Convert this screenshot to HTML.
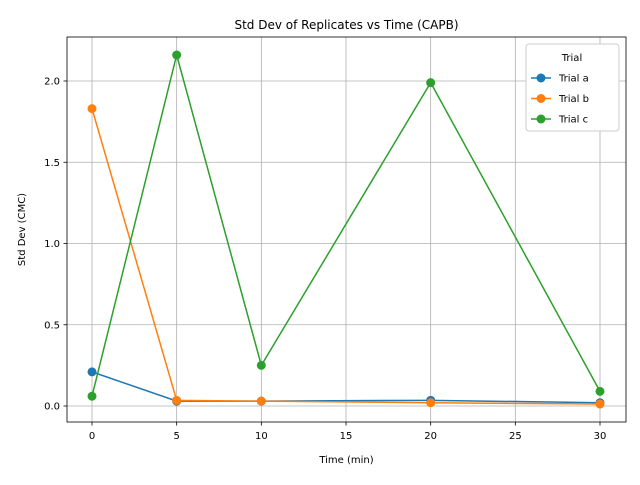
<!DOCTYPE html>
<html><head><meta charset="utf-8"><style>
body{margin:0;background:#fff;font-family:"Liberation Sans","DejaVu Sans",sans-serif}
svg text{font-family:"DejaVu Sans","Liberation Sans",sans-serif}
</style></head><body>
<svg id="c" width="640" height="480"></svg>
<script>
const times=[0,5,10,20,30];
const trialA=[0.21,0.03,0.03,0.035,0.02];
const trialB=[1.83,0.035,0.03,0.02,0.012];
const trialC=[0.06,2.16,0.25,1.99,0.09];
const xTicks=[0,5,10,15,20,25,30];
const yTicks=[0.0,0.5,1.0,1.5,2.0];
const seriesNames=["Trial a","Trial b","Trial c"];
const colors=["#1f77b4","#ff7f0e","#2ca02c"];
const L=67,R=626,T=37,B=422;
const sx=v=>92+(v-0)*(600-92)/30;
const sy=v=>406-v*(406-81)/2;
const svg=document.getElementById('c');
const NS="http://www.w3.org/2000/svg";
function el(t,a,txt){const e=document.createElementNS(NS,t);for(const k in a)e.setAttribute(k,a[k]);if(txt!==undefined)e.textContent=txt;svg.appendChild(e);return e;}
xTicks.forEach(v=>{const x=sx(v);
const g=el('line',{x1:x,x2:x,y1:T,y2:B,stroke:'#b0b0b0','stroke-width':0.8});

el('line',{x1:x,x2:x,y1:B,y2:B+3.5,stroke:'#000','stroke-width':0.8});
const t=el('text',{x:x,y:B+17,'font-size':10,'text-anchor':'middle'},String(v));
});
yTicks.forEach(v=>{const y=sy(v);
const g=el('line',{x1:L,x2:R,y1:y,y2:y,stroke:'#b0b0b0','stroke-width':0.8});

el('line',{x1:L-3.5,x2:L,y1:y,y2:y,stroke:'#000','stroke-width':0.8});
const t=el('text',{x:L-7,y:y+3.5,'font-size':10,'text-anchor':'end'},v.toFixed(1));
});
[trialA,trialB,trialC].forEach((d,i)=>{
const p=el('polyline',{points:d.map((v,j)=>sx(times[j])+','+sy(v)).join(' '),fill:'none',stroke:colors[i],'stroke-width':1.5});

d.forEach((v,j)=>{const c=el('circle',{cx:sx(times[j]),cy:sy(v),r:4.5,fill:colors[i]});
});});
const f=el('rect',{x:L,y:T,width:R-L,height:B-T,fill:'none',stroke:'#000','stroke-width':0.8});

const ti=el('text',{x:(L+R)/2,y:29,'font-size':12,'text-anchor':'middle'},'Std Dev of Replicates vs Time (CAPB)');

const xl=el('text',{x:(L+R)/2,y:463,'font-size':10,'text-anchor':'middle'},'Time (min)');

const yl=el('text',{x:25,y:(T+B)/2,'font-size':10,'text-anchor':'middle',transform:'rotate(-90 25 '+((T+B)/2)+')'},'Std Dev (CMC)');

const lg=el('rect',{x:526,y:44,width:93,height:87,fill:'#fff',stroke:'#ccc',rx:3});

const lt=el('text',{x:572,y:61,'font-size':10,'text-anchor':'middle'},'Trial');

seriesNames.forEach((n,i)=>{const y=78+i*20.5;
el('line',{x1:531,x2:551,y1:y,y2:y,stroke:colors[i],'stroke-width':1.5});
el('circle',{cx:541,cy:y,r:4.5,fill:colors[i]});
const t=el('text',{x:559,y:y+3.5,'font-size':10},n);
});
</script>
</body></html>
